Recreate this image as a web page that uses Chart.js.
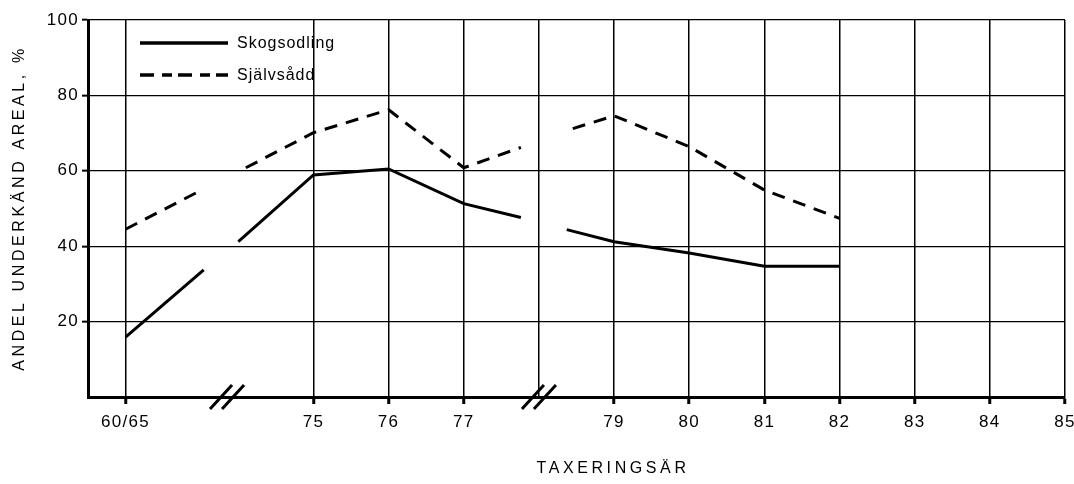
<!DOCTYPE html>
<html>
<head>
<meta charset="utf-8">
<script src="https://cdn.jsdelivr.net/npm/chart.js@4/dist/chart.umd.min.js"></script>
<style>
  html, body { margin: 0; padding: 0; background: #fff; }
  #wrap { width: 1074px; height: 484px; }
</style>
</head>
<body>
<div id="wrap"><canvas id="chart" width="1074" height="484"></canvas></div>
<script>
// x positions on the year axis (60/65 sits at 72.5, left of the break)
const X_TICKS = [72.5, 75, 76, 77, 78, 79, 80, 81, 82, 83, 84, 85];
const X_TICK_LABELS = ['60/65', '75', '76', '77', '', '79', '80', '81', '82', '83', '84', '85'];
const BREAKS = [73.85, 78];

// Skogsodling (solid) - null = gap in the line
const SKOG_X = [72.5, 73.54, 73.8, 74.0, 75, 76, 77, 77.76, 78.1, 78.37, 79, 80, 81, 82];
const SKOG_Y = [15.9, 33.7, null, 41.2, 58.9, 60.5, 51.3, 47.6, null, 44.4, 41.2, 38.2, 34.7, 34.7];

// Självsådd (dashed)
const SJALV_X = [72.5, 73.54, 73.8, 74.1, 75, 76, 77, 77.76, 78.1, 78.45, 79, 80, 81, 82];
const SJALV_Y = [44.5, 55.2, null, 60.8, 70.1, 76.2, 60.8, 66.2, null, 71.2, 74.6, 66.4, 54.9, 47.4];

const SERIES_NAMES = ['Skogsodling', 'Självsådd'];
const Y_TITLE = 'ANDEL UNDERKÄND AREAL, %';
const X_TITLE = 'TAXERINGSÄR';

const FONT = '"Liberation Sans", Arial, Helvetica, sans-serif';

function pts(xs, ys) {
    return xs.map((x, i) => ({ x: x, y: ys[i] }));
}

// draws axis titles, the // break marks and the inside legend
const extras = {
    id: 'extras',
    beforeDraw(chart) {
        chart.ctx.letterSpacing = '1.3px';
    },
    afterDraw(chart) {
        const ctx = chart.ctx;
        const xs = chart.scales.x;
        const area = chart.chartArea;
        ctx.save();
        ctx.fillStyle = '#000';
        ctx.strokeStyle = '#000';

        // break marks
        ctx.lineWidth = 3;
        BREAKS.forEach(b => {
            const cx = xs.getPixelForValue(b);
            const cy = area.bottom;
            [-6, 6].forEach(off => {
                ctx.beginPath();
                ctx.moveTo(cx + off - 11, cy + 12);
                ctx.lineTo(cx + off + 11, cy - 12);
                ctx.stroke();
            });
        });

        // y title
        ctx.font = '16px ' + FONT;
        ctx.letterSpacing = '3.6px';
        ctx.textAlign = 'center';
        ctx.textBaseline = 'middle';
        ctx.save();
        ctx.translate(20, 208);
        ctx.rotate(-Math.PI / 2);
        ctx.fillText(Y_TITLE, 0, 0);
        ctx.restore();

        // x title
        ctx.fillText(X_TITLE, 613, 469);

        // legend
        ctx.letterSpacing = '1px';
        ctx.font = '16px ' + FONT;
        ctx.textAlign = 'left';
        ctx.lineWidth = 3.5;
        ctx.beginPath();
        ctx.moveTo(140, 43);
        ctx.lineTo(228, 43);
        ctx.stroke();
        ctx.fillText(SERIES_NAMES[0], 237, 44);
        ctx.setLineDash([14, 8, 10, 6]);
        ctx.beginPath();
        ctx.moveTo(140, 75);
        ctx.lineTo(228, 75);
        ctx.stroke();
        ctx.setLineDash([]);
        ctx.fillText(SERIES_NAMES[1], 237, 76);
        ctx.restore();
    }
};

new Chart(document.getElementById('chart').getContext('2d'), {
    type: 'line',
    data: {
        datasets: [{
            label: SERIES_NAMES[0],
            data: pts(SKOG_X, SKOG_Y),
            borderColor: '#000',
            borderWidth: 3,
            pointRadius: 0,
            tension: 0,
            spanGaps: false
        }, {
            label: SERIES_NAMES[1],
            data: pts(SJALV_X, SJALV_Y),
            borderColor: '#000',
            borderWidth: 3,
            borderDash: [13, 9],
            pointRadius: 0,
            tension: 0,
            spanGaps: false
        }]
    },
    options: {
        responsive: false,
        animation: false,
        devicePixelRatio: 1,
        layout: { padding: { top: 20, right: 9, left: 0, bottom: 0 } },
        plugins: {
            legend: { display: false },
            tooltip: { enabled: false }
        },
        scales: {
            x: {
                type: 'linear',
                min: 72,
                max: 85,
                afterBuildTicks(scale) {
                    scale.ticks = X_TICKS.map(v => ({ value: v }));
                },
                afterFit(scale) {
                    scale.height = 87;
                    scale.paddingLeft = 0;
                    scale.paddingRight = 0;
                },
                ticks: {
                    autoSkip: false,
                    maxRotation: 0,
                    padding: 8,
                    color: '#000',
                    font: { family: FONT, size: 17 },
                    callback: (v, i) => X_TICK_LABELS[i]
                },
                grid: {
                    color: '#000',
                    lineWidth: 1.5,
                    tickLength: 7,
                    tickWidth: 3,
                    tickColor: ctx => (X_TICK_LABELS[ctx.index] === '' ? 'rgba(0,0,0,0)' : '#000')
                },
                border: { color: '#000', width: 3 }
            },
            y: {
                min: 0,
                max: 100,
                afterFit(scale) {
                    scale.width = 88;
                },
                ticks: {
                    stepSize: 20,
                    padding: 3,
                    color: '#000',
                    font: { family: FONT, size: 17 },
                    callback: v => (v === 0 ? '' : v)
                },
                grid: {
                    color: '#000',
                    lineWidth: 1.3,
                    tickLength: 6,
                    tickWidth: 2,
                    tickColor: ctx => (ctx.tick && ctx.tick.value === 0 ? 'rgba(0,0,0,0)' : '#000')
                },
                border: { color: '#000', width: 3 }
            }
        }
    },
    plugins: [extras]
});
</script>
</body>
</html>
